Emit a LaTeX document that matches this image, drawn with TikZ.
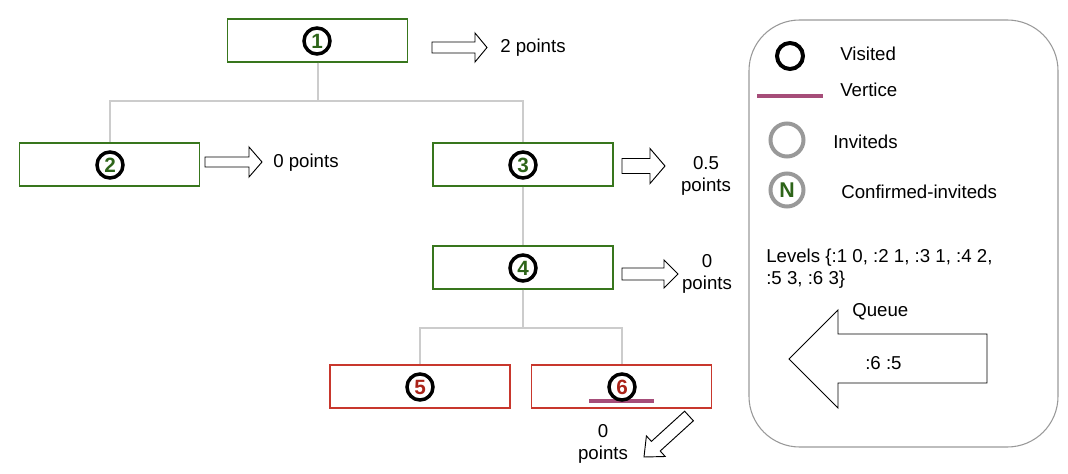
\documentclass[tikz,border=0pt]{standalone}
\usepackage{fontspec}
\setmainfont{Liberation Sans}
\definecolor{boxgreen}{RGB}{56,118,29}
\definecolor{numgreen}{RGB}{45,100,25}
\definecolor{boxred}{RGB}{200,55,45}
\definecolor{numred}{RGB}{170,35,25}
\definecolor{conngray}{RGB}{204,204,204}
\definecolor{leggray}{RGB}{153,153,153}
\definecolor{vert}{RGB}{166,77,121}
\newcommand\harrow[6]{\draw[blk] (#1,{#4-#5}) -- (#3,{#4-#5}) -- (#3,{#4-#6}) -- (#2,#4) -- (#3,{#4+#6}) -- (#3,{#4+#5}) -- (#1,{#4+#5}) -- cycle;}
\begin{document}
\begin{tikzpicture}[x=0.75pt,y=-0.75pt,
  font=\fontsize{14}{16.5}\selectfont,
  box/.style={draw, line width=1.1pt, minimum width=135pt, minimum height=32.25pt, inner sep=0pt},
  gbox/.style={box, draw=boxgreen},
  rbox/.style={box, draw=boxred},
  num/.style={circle, draw=black, line width=2.6pt, minimum size=19.5pt, inner sep=0pt, font=\fontsize{15.5}{15.5}\selectfont\bfseries},
  conn/.style={draw=conngray, line width=1.5pt},
  blk/.style={draw=black, line width=0.7pt, fill=white, line join=miter},
  lbl/.style={anchor=west, inner sep=0pt},
  ptxt/.style={align=center, inner sep=0pt},
  vline/.style={draw=vert, line width=3pt}]
\useasboundingbox (0,0) rectangle (1068,474);

% boxes
\node[gbox] (b1) at (317.5,40.5) {};
\node[gbox] (b2) at (109.5,164.5) {};
\node[gbox] (b3) at (523,164.5) {};
\node[gbox] (b4) at (523,267.5) {};
\node[rbox] (b5) at (420,386.5) {};
\node[rbox] (b6) at (621.5,386.5) {};

% connectors
\draw[conn] (b1.south) -- ++(0,38) -| (b2.north);
\draw[conn] (b1.south) -- ++(0,38) -| (b3.north);
\draw[conn] (b3.south) -- (b4.north);
\draw[conn] (b4.south) -- ++(0,38) -| (b5.north);
\draw[conn] (b4.south) -- ++(0,38) -| (b6.north);

% vertice line under 6
\coordinate (v1) at (589,401);
\coordinate (v2) at (654,401);
\draw[vline] (v1) -- (v2);

% numbered circles
\node[num, text=numgreen] (c1) at (317,41) {1};
\node[num, text=numgreen] (c2) at (110,165) {2};
\node[num, text=numgreen] (c3) at (523,165) {3};
\node[num, text=numgreen] (c4) at (523,268) {4};
\node[num, text=numred] (c5) at (420,387) {5};
\node[num, text=numred] (c6) at (622,387) {6};

% point arrows
\harrow{432}{487}{475}{47.5}{5.5}{14.5}
\harrow{205}{262}{249}{162}{5}{15}
\harrow{622}{665}{650}{166}{7.5}{17.5}
\harrow{622}{678}{664}{274}{6}{14}
\draw[blk] (693.4,420.8) -- (660.2,451.0) -- (665.2,456.5) -- (644,457) -- (646.4,435.9) -- (651.4,441.4) -- (684.6,411.2) -- cycle;

% point texts
\node[lbl] (t1) at (500,48) {2 points};
\node[lbl] (t2) at (273,163) {0 points};
\node[ptxt] (t3) at (706,176) {0.5\\points};
\node[ptxt] (t4) at (707,274) {0\\points};
\node[ptxt] (t6) at (603,444) {0\\points};

% legend
\draw[leggray, line width=0.8pt, rounded corners=38pt] (749,20) rectangle (1058,447);
\node[circle, draw=black, line width=3pt, minimum size=19.5pt, inner sep=0pt] (lv) at (790,56) {};
\node[lbl] (lvt) at (840,54) {Visited};
\coordinate (lm1) at (757,96);
\coordinate (lm2) at (823,96);
\draw[vline] (lm1) -- (lm2);
\node[lbl] (lmt) at (840,90) {Vertice};
\node[circle, draw=leggray, line width=3pt, minimum size=24.75pt, inner sep=0pt] (li) at (787,140) {};
\node[lbl] (lit) at (833,142) {Inviteds};
\node[circle, draw=leggray, line width=3pt, minimum size=24.75pt, inner sep=0pt, text=numgreen, font=\fontsize{16}{16}\selectfont\bfseries] (lc) at (787,190) {N};
\node[lbl] (lct) at (841,192) {Confirmed-inviteds};
\node[lbl, align=left] (lev) at (766,269) {Levels \{:1 0, :2 1, :3 1, :4 2,\\:5 3, :6 3\}};
\draw[blk] (789,359) -- (838,310) -- (838,334) -- (987,334) -- (987,383) -- (838,383) -- (838,408) -- cycle;
\node[lbl] (qt) at (852,312) {Queue};
\node[lbl] (qc) at (865,363) {:6 :5};
\end{tikzpicture}
\end{document}
